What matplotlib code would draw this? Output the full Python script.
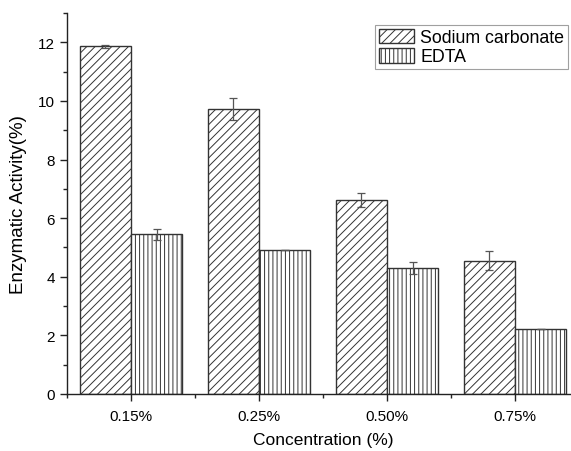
import matplotlib.pyplot as plt
import numpy as np
from matplotlib.ticker import MultipleLocator

# Enzymatic activity for each additive concentration
concentrations = ["0.15%", "0.25%", "0.50%", "0.75%"]
sodium_carbonate = [11.86, 9.72, 6.62, 4.55]
sodium_carbonate_err = [0.04, 0.37, 0.25, 0.33]
edta = [5.45, 4.91, 4.29, 2.23]
edta_err = [0.18, 0.0, 0.2, 0.0]

plt.rcParams['font.family'] = ['Liberation Sans', 'DejaVu Sans']
plt.rcParams['hatch.color'] = '#9a9a9a'
plt.rcParams['hatch.linewidth'] = 0.7

fig = plt.figure(figsize=(5.71, 4.52), dpi=100)
# axes run a little past the right edge of the figure
ax = fig.add_axes([67 / 571, 57 / 452, 512 / 571, 381 / 452])

x = np.arange(len(concentrations))
w = 0.4

ax.bar(x - w / 2, sodium_carbonate, w, color='white', edgecolor='#333333',
       linewidth=1.0, hatch='////', label='Sodium carbonate')
ax.bar(x + w / 2, edta, w, color='white', edgecolor='#333333',
       linewidth=1.0, hatch='||||', label='EDTA')

ax.errorbar(x - w / 2, sodium_carbonate, yerr=sodium_carbonate_err, fmt='none',
            ecolor='#555555', elinewidth=0.9, capsize=3, capthick=0.9)
ax.errorbar(x + w / 2, edta, yerr=edta_err, fmt='none',
            ecolor='#555555', elinewidth=0.9, capsize=3, capthick=0.9)

ax.set_xlim(-0.5, 3.5)
ax.set_ylim(0, 13)
ax.set_xticks(x)
ax.set_xticklabels(concentrations)
ax.xaxis.set_minor_locator(MultipleLocator(0.5))
ax.yaxis.set_major_locator(MultipleLocator(2))
ax.yaxis.set_minor_locator(MultipleLocator(1))

for s in ['top', 'right']:
    ax.spines[s].set_visible(False)
for s in ['left', 'bottom']:
    ax.spines[s].set_linewidth(1.0)
    ax.spines[s].set_color('#222222')

ax.tick_params(which='major', length=5, width=1.0, labelsize=11, color='#222222')
ax.tick_params(which='minor', length=3, width=1.0, color='#222222')
ax.tick_params(axis='x', pad=6)

ax.set_xlabel('Concentration (%)', fontsize=12.5, labelpad=6)
ax.set_ylabel('Enzymatic Activity(%)', fontsize=13.5, labelpad=8)

leg = ax.legend(loc='upper left', bbox_to_anchor=(375 / 571, 1 - 26 / 452),
                bbox_transform=fig.transFigure, fontsize=12.8, frameon=True,
                fancybox=False, borderpad=0.2, handlelength=2.0,
                handleheight=0.9, handletextpad=0.35, labelspacing=0.1,
                borderaxespad=0)
leg.get_frame().set_edgecolor('#888888')
leg.get_frame().set_linewidth(0.8)

fig.savefig('out.png', dpi=100)
